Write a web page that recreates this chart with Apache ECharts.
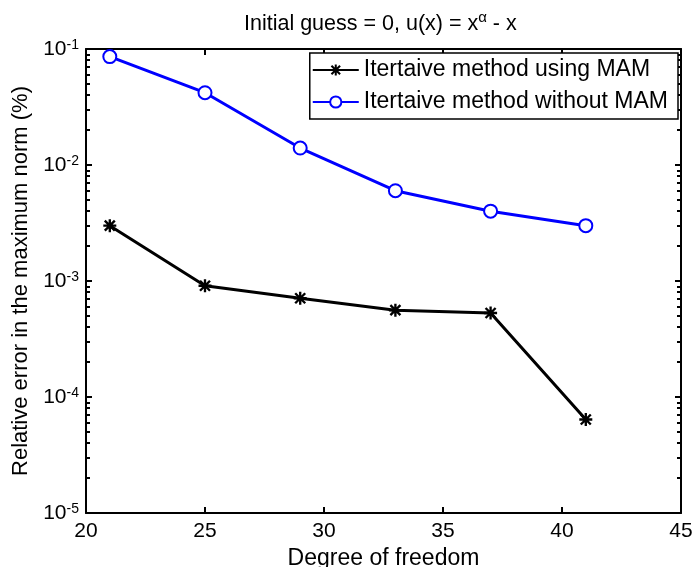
<!DOCTYPE html>
<html>
<head>
<meta charset="utf-8">
<script src="https://cdn.jsdelivr.net/npm/echarts@6/dist/echarts.min.js"></script>
<style>html,body{margin:0;padding:0;background:#fff;}#c{width:694px;height:567px;}</style>
</head>
<body>
<div id="c"></div>
<script>
const degrees = [21, 25, 29, 33, 37, 41];
const withMAM = [0.0030, 0.00091, 0.00071, 0.00056, 0.00053, 0.000064];
const withoutMAM = [0.086, 0.042, 0.014, 0.0060, 0.0040, 0.0030];
const xTicks = [20, 25, 30, 35, 40, 45];
const yExponents = [-5, -4, -3, -2, -1];

const FONT = "'Liberation Sans', Arial, sans-serif";
const minorVals = [];
for (let e = -5; e < -1; e++) for (let m = 2; m <= 9; m++) minorVals.push(m * Math.pow(10, e));

const asterisk = 'path://M8.2 0 L11.8 0 L11.8 20 L8.2 20 Z M0 8.2 L20 8.2 L20 11.8 L0 11.8 Z M1 3.6 L3.6 1 L19 16.4 L16.4 19 Z M16.4 1 L19 3.6 L3.6 19 L1 16.4 Z';

const chart = echarts.init(document.getElementById('c'), null, {renderer: 'canvas'});
const yBase = {
  type: 'log', logBase: 10, min: 1e-5, max: 1e-1, gridIndex: 0,
  splitLine: {show: false}
};
chart.setOption({
  animation: false,
  backgroundColor: '#fff',
  title: {
    text: '{t|Initial guess = 0, u(x) = x}{s|α}{t| - x}',
    left: 239, top: 5,
    textStyle: {
      rich: {
        t: {fontFamily: FONT, fontSize: 21.5, color: '#000', fontWeight: 'normal', lineHeight: 22, padding: [6, 0, 0, 0]},
        s: {fontFamily: FONT, fontSize: 15, color: '#000', fontWeight: 'normal', lineHeight: 15, verticalAlign: 'top'}
      }
    }
  },
  legend: {
    orient: 'vertical', right: 16, top: 53,
    backgroundColor: '#fff', borderColor: '#000', borderWidth: 1.5,
    padding: [2, 10, 2, 2], itemGap: 2, itemWidth: 46, itemHeight: 14,
    textStyle: {fontFamily: FONT, fontSize: 23, color: '#000', lineHeight: 30},
    data: ['Itertaive method using MAM', 'Itertaive method without MAM']
  },
  grid: {left: 86, right: 13, top: 49, bottom: 54, containLabel: false, outerBoundsMode: 'none'},
  xAxis: [{
    type: 'value', min: 20, max: 45, interval: 5, position: 'bottom',
    name: 'Degree of freedom', nameLocation: 'middle', nameGap: 29,
    nameTextStyle: {fontFamily: FONT, fontSize: 23, color: '#000'},
    axisLine: {lineStyle: {color: '#000', width: 2}},
    axisTick: {inside: true, length: 6, lineStyle: {color: '#000', width: 2}},
    axisLabel: {fontFamily: FONT, fontSize: 21, color: '#000', margin: 8,
      formatter: v => xTicks.includes(v) ? String(v) : ''},
    splitLine: {show: false}
  }, {
    type: 'value', min: 20, max: 45, interval: 5, position: 'top',
    axisLine: {lineStyle: {color: '#000', width: 2}},
    axisTick: {inside: true, length: 6, lineStyle: {color: '#000', width: 2}},
    axisLabel: {show: false}, splitLine: {show: false}
  }],
  yAxis: [Object.assign({}, yBase, {
    position: 'left',
    name: 'Relative error in the maximum norm (%)', nameLocation: 'middle', nameGap: 53,
    nameTextStyle: {fontFamily: FONT, fontSize: 22, color: '#000'},
    axisLine: {show: true, lineStyle: {color: '#000', width: 2}},
    axisTick: {show: true, inside: true, length: 6, lineStyle: {color: '#000', width: 2}},
    axisLabel: {
      margin: 7,
      formatter: v => {
        const e = Math.round(Math.log10(v));
        return yExponents.includes(e) ? '{b|10}{s|' + e + '}' : '';
      },
      rich: {
        b: {fontFamily: FONT, fontSize: 21, color: '#000', lineHeight: 21, padding: [5, 0, 5, 0]},
        s: {fontFamily: FONT, fontSize: 14, color: '#000', lineHeight: 14, verticalAlign: 'top'}
      }
    }
  }), Object.assign({}, yBase, {
    position: 'left',
    axisLine: {show: false},
    axisTick: {show: true, inside: true, length: 4, customValues: minorVals, lineStyle: {color: '#000', width: 2}},
    axisLabel: {show: false}
  }), Object.assign({}, yBase, {
    position: 'right',
    axisLine: {show: true, lineStyle: {color: '#000', width: 2}},
    axisTick: {show: true, inside: true, length: 6, lineStyle: {color: '#000', width: 2}},
    axisLabel: {show: false}
  }), Object.assign({}, yBase, {
    position: 'right',
    axisLine: {show: false},
    axisTick: {show: true, inside: true, length: 4, customValues: minorVals, lineStyle: {color: '#000', width: 2}},
    axisLabel: {show: false}
  })],
  series: [{
    name: 'Itertaive method using MAM', type: 'line',
    xAxisIndex: 0, yAxisIndex: 0,
    data: degrees.map((d, i) => [d, withMAM[i]]),
    symbol: asterisk, symbolSize: 13, showAllSymbol: true,
    lineStyle: {color: '#000', width: 3},
    itemStyle: {color: '#000', borderWidth: 0}
  }, {
    name: 'Itertaive method without MAM', type: 'line',
    xAxisIndex: 0, yAxisIndex: 0,
    data: degrees.map((d, i) => [d, withoutMAM[i]]),
    symbol: 'emptyCircle', symbolSize: 13, showAllSymbol: true,
    lineStyle: {color: '#0000ff', width: 3},
    itemStyle: {color: '#0000ff', borderColor: '#0000ff', borderWidth: 2.5}
  }]
});
</script>
</body>
</html>
